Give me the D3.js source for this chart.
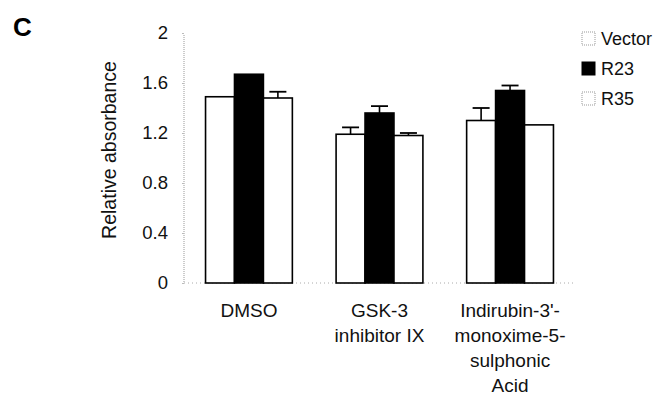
<!DOCTYPE html>
<html>
<head>
<meta charset="utf-8">
<script src="https://cdn.jsdelivr.net/npm/d3@7"></script>
<style>
  body { margin: 0; background: #fff; }
  svg { display: block; font-family: Arial, "Liberation Sans", sans-serif; }
</style>
</head>
<body>
<svg id="chart" width="661" height="398"></svg>
<script>
// Treatment groups (each label line drawn separately)
const categories = ["DMSO", "GSK-3 inhibitor IX", "Indirubin-3'-monoxime-5-sulphonic Acid"];
const categoryLines = [["DMSO"], ["GSK-3", "inhibitor IX"], ["Indirubin-3'-", "monoxime-5-", "sulphonic", "Acid"]];
const seriesNames = ["Vector", "R23", "R35"];
const vectorValues = [1.49, 1.19, 1.30];
const r23Values = [1.67, 1.36, 1.54];
const r35Values = [1.48, 1.18, 1.265];
const vectorErr = [0.0, 0.055, 0.10];
const r23Err = [0.0, 0.055, 0.04];
const r35Err = [0.05, 0.02, 0.0];
const yTicks = [0, 0.4, 0.8, 1.2, 1.6, 2];

const seriesValues = [vectorValues, r23Values, r35Values];
const seriesErr = [vectorErr, r23Err, r35Err];
const seriesFill = ["#fff", "#000", "#fff"];
const FONT = "Arial, 'Liberation Sans', sans-serif";

const svg = d3.select("#chart");
const x0 = 184, x1 = 575, yBase = 283, yTop = 33;

const x = d3.scaleBand().domain(categories).range([x0, x1]).paddingInner(0.335).paddingOuter(0.165);
const xs = d3.scaleBand().domain(seriesNames).range([0, x.bandwidth()]).padding(0);
const y = d3.scaleLinear().domain([0, 2]).range([yBase, yTop]);

// Panel letter
svg.append("text").attr("x", 13).attr("y", 36).attr("font-size", 26).attr("font-weight", "bold").text("C");

// Y axis (faint dotted line)
svg.append("line").attr("x1", x0).attr("x2", x0).attr("y1", y(2) + 2).attr("y2", yBase)
  .attr("stroke", "#999").attr("stroke-width", 1).attr("stroke-dasharray", "1,1");
const yAxis = d3.axisLeft(y).tickValues(yTicks).tickSize(2).tickPadding(14)
  .tickFormat(d => d === 0 ? "0" : d3.format("~g")(d));
const gy = svg.append("g").attr("transform", `translate(${x0},0)`).call(yAxis);
gy.select(".domain").remove();
gy.selectAll(".tick line").attr("stroke", "#bbb");
gy.selectAll(".tick text").attr("font-size", 18.5).attr("fill", "#111").attr("font-family", FONT);

// Y axis title
svg.append("text").attr("transform", `translate(116,150) rotate(-90)`)
  .attr("text-anchor", "middle").attr("font-size", 19.5).attr("fill", "#111").text("Relative absorbance");

// Baseline (faint dotted)
svg.append("line").attr("x1", x0).attr("x2", x1).attr("y1", yBase).attr("y2", yBase)
  .attr("stroke", "#aaa").attr("stroke-width", 1).attr("stroke-dasharray", "1,3");

// Bars and error bars
seriesNames.forEach((s, si) => {
  const g = svg.append("g");
  categories.forEach((c, ci) => {
    const v = seriesValues[si][ci];
    const bx = x(c) + xs(s);
    g.append("rect").attr("x", bx).attr("y", y(v)).attr("width", xs.bandwidth()).attr("height", yBase - y(v))
      .attr("fill", seriesFill[si]).attr("stroke", "#000").attr("stroke-width", 1.6);
    const e = seriesErr[si][ci];
    if (e > 0) {
      const cx = bx + xs.bandwidth() / 2;
      g.append("line").attr("x1", cx).attr("x2", cx).attr("y1", y(v)).attr("y2", y(v + e))
        .attr("stroke", "#000").attr("stroke-width", 1.6);
      g.append("line").attr("x1", cx - 8.5).attr("x2", cx + 8.5).attr("y1", y(v + e)).attr("y2", y(v + e))
        .attr("stroke", "#000").attr("stroke-width", 1.8);
    }
  });
});

// Category labels
categories.forEach((c, ci) => {
  const t = svg.append("text").attr("text-anchor", "middle").attr("font-size", 19).attr("fill", "#111");
  categoryLines[ci].forEach((line, li) => {
    t.append("tspan").attr("x", x(c) + x.bandwidth() / 2).attr("y", 317 + li * 25).text(line);
  });
});

// Legend
seriesNames.forEach((s, si) => {
  const base = 45 + si * 30;
  svg.append("rect").attr("x", 582).attr("y", base - 13).attr("width", 13).attr("height", 13)
    .attr("fill", seriesFill[si]).attr("stroke", si === 1 ? "#000" : "#999")
    .attr("stroke-width", 1).attr("stroke-dasharray", si === 1 ? null : "1,1");
  svg.append("text").attr("x", 601).attr("y", base).attr("font-size", 18).attr("fill", "#111").text(s);
});
</script>
</body>
</html>
